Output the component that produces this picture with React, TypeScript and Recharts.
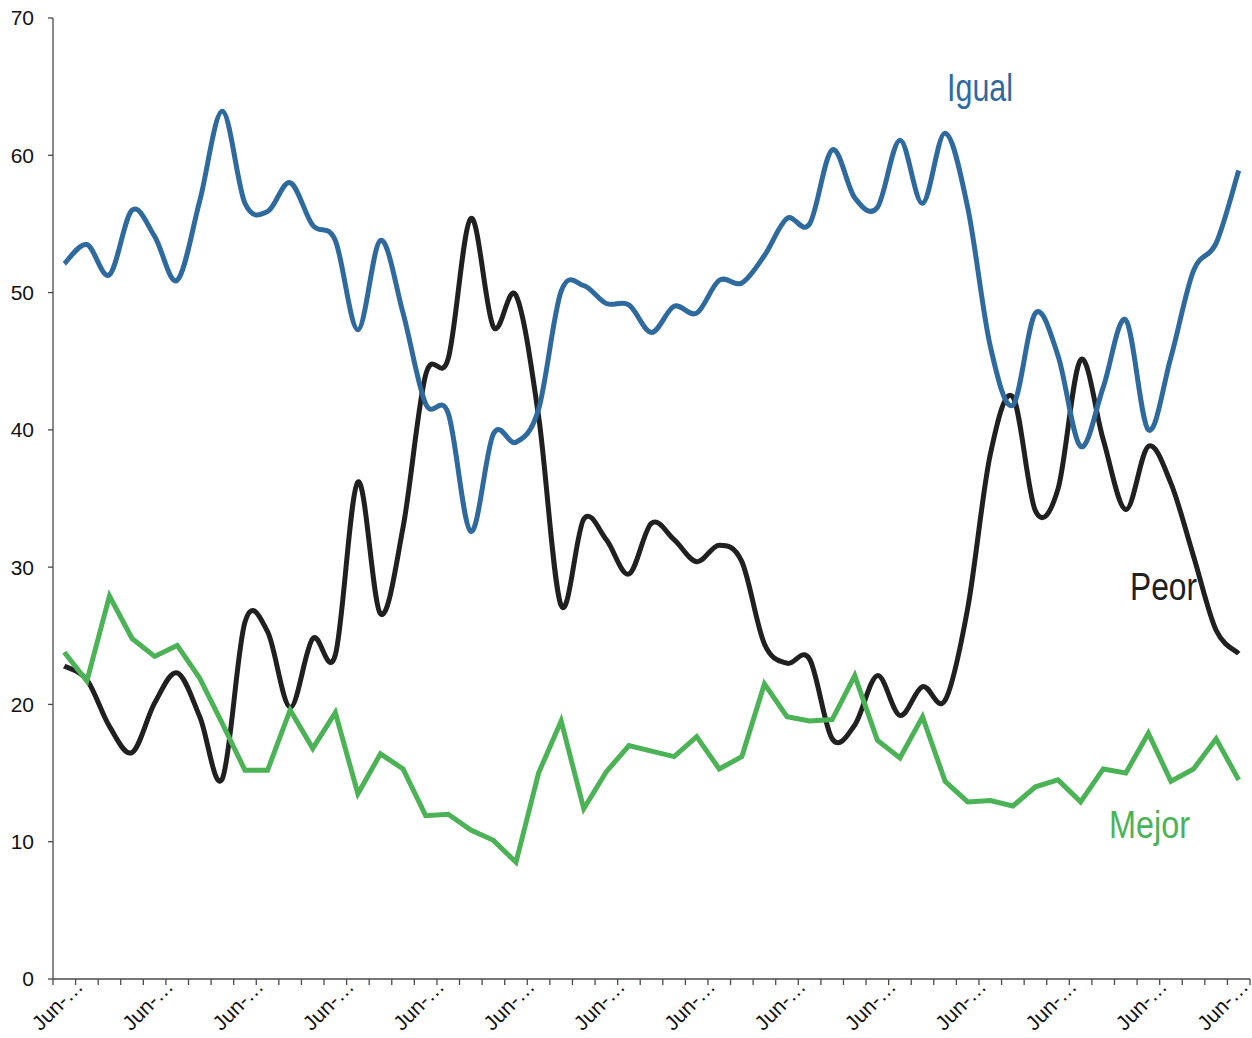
import { LineChart, Line, XAxis, YAxis } from 'recharts'

// quarterly readings, every fourth one is a June (labels are cut off in the source)
const periods = [
  0, 1, 2, 3, 4, 5, 6, 7, 8, 9, 10, 11, 12, 13, 14, 15, 16, 17,
  18, 19, 20, 21, 22, 23, 24, 25, 26, 27, 28, 29, 30, 31, 32, 33, 34, 35,
  36, 37, 38, 39, 40, 41, 42, 43, 44, 45, 46, 47, 48, 49, 50, 51, 52,
]

const igual = [
  52.1, 53.5, 51.3, 56.0, 54.1, 50.9, 56.7, 63.2, 56.5, 55.9,
  58.0, 54.9, 53.8, 47.3, 53.8, 48.5, 41.9, 41.2, 32.6, 39.7,
  39.1, 41.5, 50.1, 50.5, 49.2, 49.1, 47.1, 49.0, 48.5, 50.9,
  50.7, 52.7, 55.4, 55.0, 60.4, 56.9, 56.2, 61.1, 56.5, 61.6,
  56.2, 46.1, 41.8, 48.5, 45.4, 38.8, 43.1, 48.0, 40.0, 45.3,
  51.6, 53.6, 58.9,
]

const peor = [
  22.8, 21.8, 18.4, 16.5, 20.1, 22.3, 19.1, 14.6, 26.0, 25.3,
  19.8, 24.8, 23.6, 36.2, 26.6, 32.9, 44.0, 45.2, 55.4, 47.5,
  49.8, 41.0, 27.2, 33.5, 32.0, 29.5, 33.2, 32.0, 30.4, 31.6,
  30.4, 24.4, 23.0, 23.3, 17.5, 18.5, 22.1, 19.2, 21.3, 20.3,
  27.0, 38.2, 42.4, 34.1, 35.7, 45.1, 39.3, 34.2, 38.8, 36.1,
  30.8, 25.4, 23.7,
]

const mejor = [
  23.8, 21.7, 27.9, 24.8, 23.5, 24.3, 21.9, 18.6, 15.2, 15.2,
  19.6, 16.8, 19.4, 13.5, 16.4, 15.3, 11.9, 12.0, 10.85, 10.1,
  8.5, 15.0, 18.8, 12.4, 15.1, 17.0, 16.6, 16.2, 17.65, 15.3,
  16.2, 21.5, 19.1, 18.8, 18.9, 22.1, 17.4, 16.1, 19.1, 14.4,
  12.9, 13.0, 12.6, 14.0, 14.5, 12.9, 15.3, 15.0, 17.9, 14.4,
  15.3, 17.5, 14.5,
]

const yTicks = [0, 10, 20, 30, 40, 50, 60, 70]
const tickLabel = 'Jun-…'

const data = periods.map((p, i) => ({ p, igual: igual[i], peor: peor[i], mejor: mejor[i] }))

const BLUE = '#2f6a9e'
const BLACK = '#202020'
const GREEN = '#4cb256'
const AXIS = '#4a4a4a'
const FONT = '"Liberation Sans", Arial, sans-serif'

const HALF_BAND = 1197 / periods.length / 2

// excel-ish smoothing (catmull-rom as bezier)
const smooth = (context: any) => {
  let pts: number[][] = []
  return {
    areaStart() {},
    areaEnd() {},
    lineStart() { pts = [] },
    point(x: number, y: number) { pts.push([+x, +y]) },
    lineEnd() {
      const n = pts.length
      if (!n) return
      context.moveTo(pts[0][0], pts[0][1])
      for (let i = 0; i < n - 1; i++) {
        const p0 = pts[Math.max(i - 1, 0)]
        const p1 = pts[i]
        const p2 = pts[i + 1]
        const p3 = pts[Math.min(i + 2, n - 1)]
        context.bezierCurveTo(
          p1[0] + (p2[0] - p0[0]) / 6, p1[1] + (p2[1] - p0[1]) / 6,
          p2[0] - (p3[0] - p1[0]) / 6, p2[1] - (p3[1] - p1[1]) / 6,
          p2[0], p2[1],
        )
      }
    },
  }
}

const XTick = (props: any) => {
  const { x, y, index } = props
  const last = index === periods.length - 1
  // last label pulled in a bit so it isn't clipped by the page edge
  const ax = x + (last ? 11 : 20)
  const ay = y + 9
  return (
    <g>
      <line x1={x - HALF_BAND} x2={x - HALF_BAND} y1={y} y2={y + 6} stroke={AXIS} strokeWidth={1.3} />
      {last && <line x1={x + HALF_BAND} x2={x + HALF_BAND} y1={y} y2={y + 6} stroke={AXIS} strokeWidth={1.3} />}
      {index % 4 === 0 && (
        <text
          x={ax}
          y={ay}
          textAnchor="end"
          transform={`rotate(-45, ${ax}, ${ay})`}
          fill="#111"
          fontSize={21}
          fontFamily={FONT}
        >
          {tickLabel}
        </text>
      )}
    </g>
  )
}

export default function App() {
  return (
    <div style={{ position: 'absolute', left: 0, top: 0, width: 1252, height: 1038, background: '#fff' }}>
      <LineChart width={1252} height={1038} data={data} margin={{ top: 18, right: 2, left: 0, bottom: 0 }}>
        <XAxis
          dataKey="p"
          type="category"
          interval={0}
          height={59}
          padding={{ left: HALF_BAND, right: HALF_BAND }}
          axisLine={{ stroke: AXIS, strokeWidth: 1.3 }}
          tickLine={false}
          tickSize={0}
          tickMargin={0}
          tick={<XTick />}
        />
        <YAxis
          domain={[0, 70]}
          ticks={yTicks}
          width={53}
          tickSize={5}
          tickMargin={14}
          axisLine={{ stroke: AXIS, strokeWidth: 1.3 }}
          tickLine={{ stroke: AXIS, strokeWidth: 1.3 }}
          tick={{ fill: '#111', fontSize: 21, fontFamily: FONT }}
        />
        <Line dataKey="peor" type={smooth as any} stroke={BLACK} strokeWidth={5} dot={false} isAnimationActive={false} />
        <Line dataKey="igual" type={smooth as any} stroke={BLUE} strokeWidth={5} dot={false} isAnimationActive={false} />
        <Line dataKey="mejor" type="linear" stroke={GREEN} strokeWidth={5} dot={false} strokeLinejoin="miter" isAnimationActive={false} />
      </LineChart>
      <svg width={1252} height={1038} style={{ position: 'absolute', left: 0, top: 0, pointerEvents: 'none' }}>
        <g fontFamily={'"Liberation Sans Narrow", "Liberation Sans", Arial, sans-serif'} fontSize={38}>
          <text x={947} y={101} fill={BLUE} textLength={66} lengthAdjust="spacingAndGlyphs">Igual</text>
          <text x={1130} y={600} fill={BLACK} textLength={67} lengthAdjust="spacingAndGlyphs">Peor</text>
          <text x={1109} y={838} fill={GREEN} textLength={81} lengthAdjust="spacingAndGlyphs">Mejor</text>
        </g>
      </svg>
    </div>
  )
}
